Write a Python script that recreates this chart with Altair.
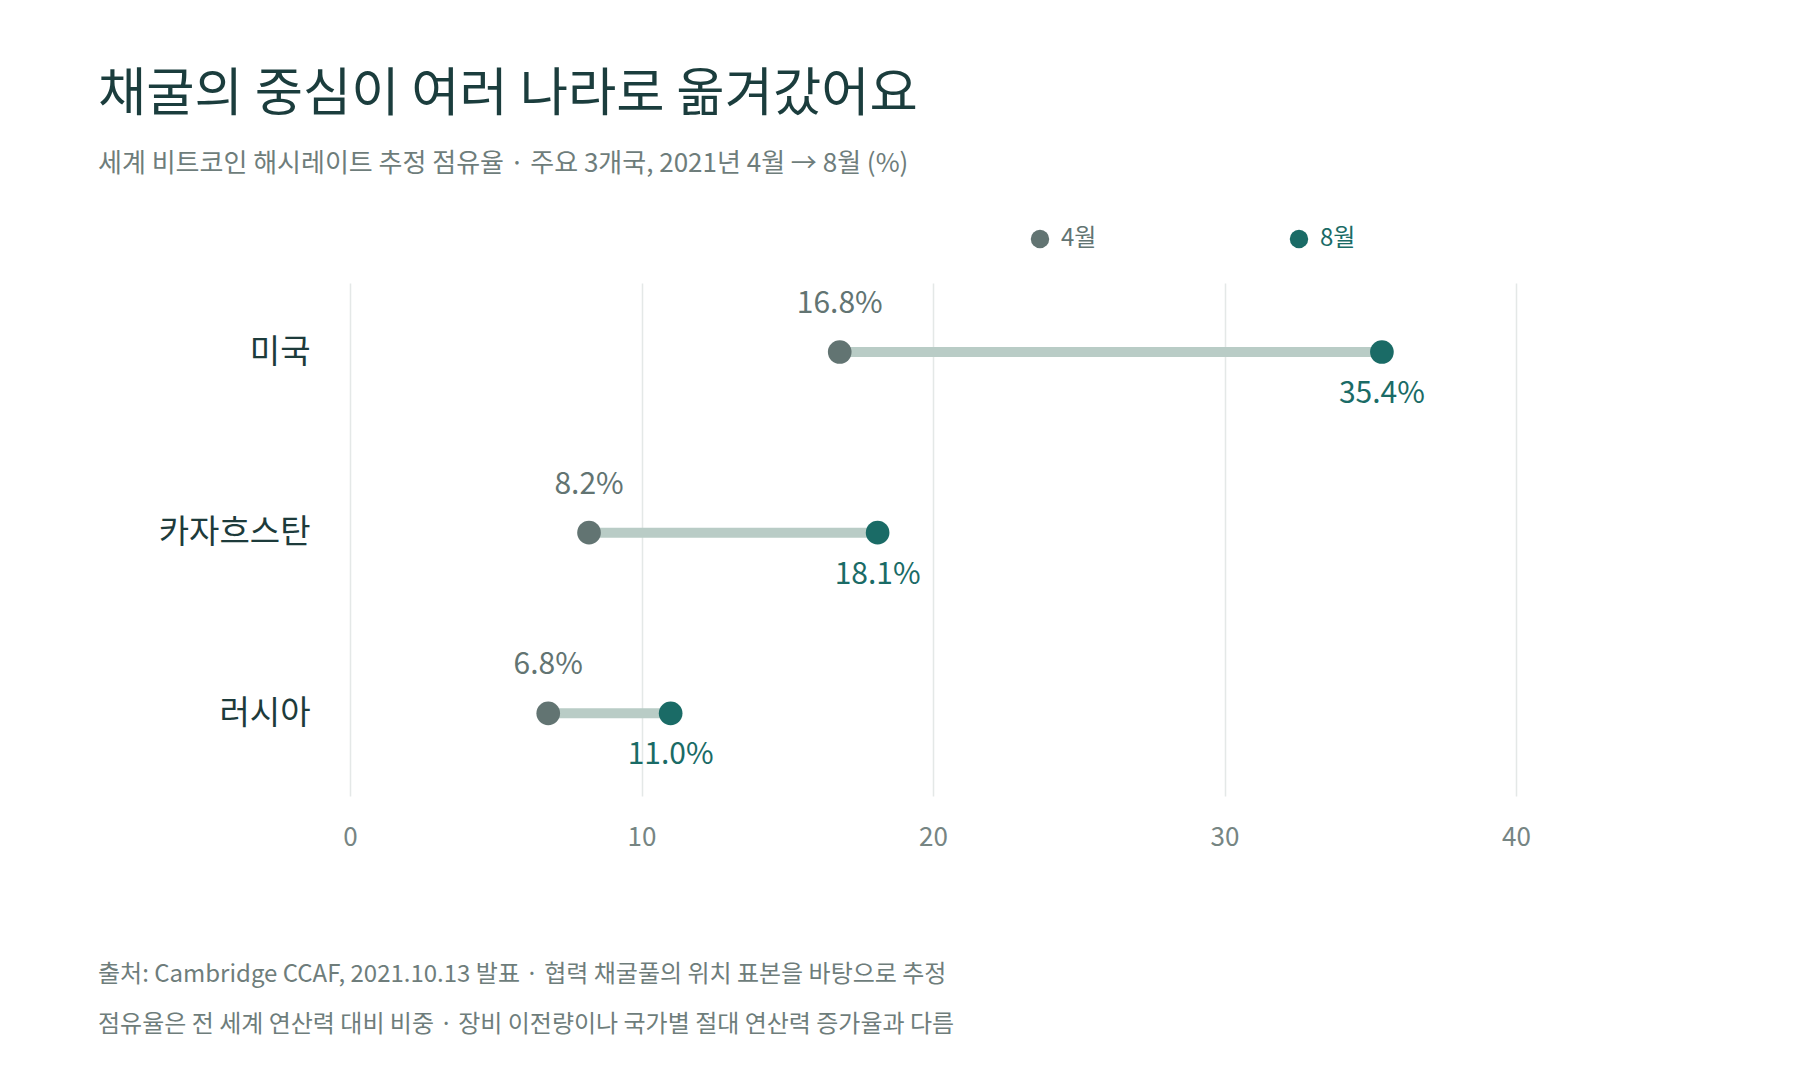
"""채굴 중심 이동 덤벨 차트."""

from __future__ import annotations

import altair as alt
import pandas as pd

countries = ["미국", "카자흐스탄", "러시아"]
april = [16.8, 8.2, 6.8]
august = [35.4, 18.1, 11.0]
months = ["4월", "8월"]
x_ticks = [0, 10, 20, 30, 40]
footer_lines = [
    "출처: Cambridge CCAF, 2021.10.13 발표 · 협력 채굴풀의 위치 표본을 바탕으로 추정",
    "점유율은 전 세계 연산력 대비 비중 · 장비 이전량이나 국가별 절대 연산력 증가율과 다름",
]

FONT = "Noto Sans CJK KR"
GRAY = "#627472"
TEAL = "#1a6b66"
LINK = "#b9ccc6"
INK = "#1d3b3b"
MUTED = "#6e7d7b"

wide = pd.DataFrame({"country": countries, "april": april, "august": august})
long = pd.DataFrame(
    {
        "country": countries * 2,
        "month": [months[0]] * len(countries) + [months[1]] * len(countries),
        "share": april + august,
    }
)
long["label"] = long["share"].map(lambda v: f"{v:.1f}%")
footer = pd.DataFrame({"line": footer_lines, "order": list(range(len(footer_lines)))})

x_scale = alt.Scale(domain=[0, 40], nice=False)
x_axis = alt.Axis(
    values=x_ticks,
    title=None,
    domain=False,
    ticks=False,
    grid=True,
    gridColor="#e4e8e7",
    gridWidth=1.5,
    labelFlush=False,
    labelFontSize=26,
    labelColor="#768583",
    labelPadding=28,
    labelFont=FONT,
)
# top row sits a little closer to the edge than the bottom one
y_enc = alt.Y(
    "country:N",
    sort=countries,
    scale=alt.Scale(type="point", padding=0.42, align=0.455),
    axis=alt.Axis(
        title=None,
        domain=False,
        ticks=False,
        grid=False,
        labelFontSize=33,
        labelColor=INK,
        labelPadding=40,
        labelFont=FONT,
    ),
)

links = (
    alt.Chart(wide)
    .mark_rule(strokeWidth=10, color=LINK)
    .encode(
        x=alt.X("april:Q", scale=x_scale, axis=x_axis),
        x2="august:Q",
        y=y_enc,
    )
)

dots = (
    alt.Chart(long)
    .mark_circle(size=560, opacity=1)
    .encode(
        x=alt.X("share:Q", scale=x_scale, axis=x_axis),
        y=y_enc,
        color=alt.Color(
            "month:N",
            scale=alt.Scale(domain=months, range=[GRAY, TEAL]),
            legend=alt.Legend(
                title=None,
                orient="none",
                direction="horizontal",
                legendX=678,
                legendY=-56,
                symbolSize=340,
                symbolType="circle",
                labelFontSize=24,
                labelFont=FONT,
                labelOffset=9,
                columnPadding=190,
                labelColor={"expr": f"datum.value === '4월' ? '{GRAY}' : '{TEAL}'"},
            ),
        ),
    )
)

april_labels = (
    alt.Chart(long)
    .transform_filter(alt.datum.month == months[0])
    .mark_text(dy=-48, fontSize=30, font=FONT, color=GRAY)
    .encode(x="share:Q", y=y_enc, text="label:N")
)

august_labels = (
    alt.Chart(long)
    .transform_filter(alt.datum.month == months[1])
    .mark_text(dy=42, fontSize=30, font=FONT, color=TEAL)
    .encode(x="share:Q", y=y_enc, text="label:N")
)

notes = (
    alt.Chart(footer)
    .mark_text(align="left", baseline="middle", fontSize=24, font=FONT, color=MUTED)
    .encode(
        x=alt.value(-252),
        y=alt.Y("order:O", scale=alt.Scale(type="point", range=[692, 742], padding=0), axis=None),
        text="line:N",
    )
)

dumbbell = alt.layer(links, dots, april_labels, august_labels)

chart = (
    alt.layer(dumbbell, notes)
    .resolve_scale(y="independent")
    .properties(
        width=1166,
        height=513,
        background="white",
        padding={"left": 90, "top": 60, "right": 40, "bottom": 30},
        title=alt.Title(
            text="채굴의 중심이 여러 나라로 옮겨갔어요",
            subtitle="세계 비트코인 해시레이트 추정 점유율 · 주요 3개국, 2021년 4월 → 8월 (%)",
            anchor="start",
            frame="group",
            dx=-252,
            offset=49,
            font=FONT,
            fontSize=52.5,
            fontWeight="normal",
            color="#1b3d3d",
            subtitleFont=FONT,
            subtitleFontSize=26,
            subtitleColor=MUTED,
            subtitlePadding=29,
        ),
    )
    .configure_view(strokeWidth=0)
)

chart.save("out.html", embed_options={"renderer": "svg", "actions": False})
